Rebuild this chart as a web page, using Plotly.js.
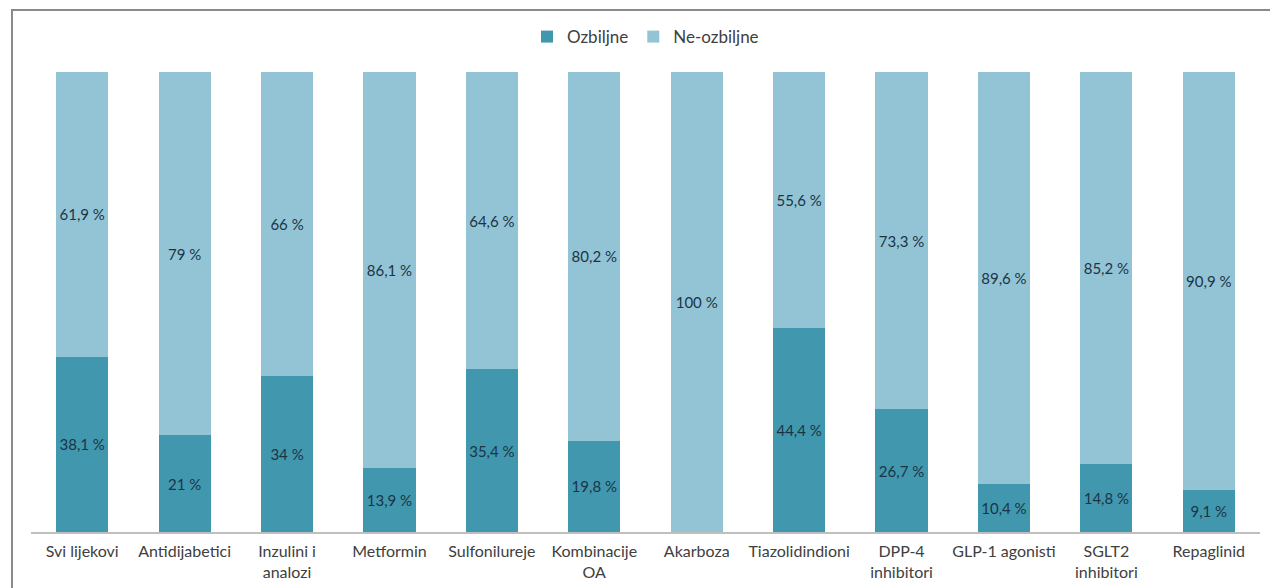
<!DOCTYPE html>
<html>
<head>
<meta charset="utf-8">
<script src="https://cdn.plot.ly/plotly-3.0.1.min.js"></script>
<style>
  html, body { margin: 0; padding: 0; background: #ffffff; }
  #frame { position: absolute; left: 11px; top: 9px; width: 1270px; height: 600px; border: 2px solid #8a8a8a; box-sizing: border-box; }
  #chart { position: absolute; left: 0; top: 0; width: 1270px; height: 588px; }
</style>
</head>
<body>
<div id="frame"></div>
<div id="chart"></div>
<script>
const categories = ["Svi lijekovi", "Antidijabetici", "Inzulini i<br>analozi", "Metformin", "Sulfonilureje", "Kombinacije<br>OA", "Akarboza", "Tiazolidindioni", "DPP-4<br>inhibitori", "GLP-1 agonisti", "SGLT2<br>inhibitori", "Repaglinid"];
const ozbiljne = [38.1, 21, 34, 13.9, 35.4, 19.8, 0, 44.4, 26.7, 10.4, 14.8, 9.1];
const neOzbiljne = [61.9, 79, 66, 86.1, 64.6, 80.2, 100, 55.6, 73.3, 89.6, 85.2, 90.9];
const seriesNames = ["Ozbiljne", "Ne-ozbiljne"];

function fmt(v) { return v === 0 ? "" : String(v).replace(".", ",") + " %"; }

const labelFont = { family: "Lato, 'Open Sans', sans-serif", size: 15, color: "#1b3445" };

const traces = [
  {
    type: "bar", name: seriesNames[0], x: categories, y: ozbiljne,
    marker: { color: "#4198ae" },
    text: ozbiljne.map(fmt), textposition: "inside", insidetextanchor: "middle", textangle: 0,
    textfont: labelFont, constraintext: "none", hoverinfo: "skip"
  },
  {
    type: "bar", name: seriesNames[1], x: categories, y: neOzbiljne,
    marker: { color: "#93c4d6" },
    text: neOzbiljne.map(fmt), textposition: "inside", insidetextanchor: "middle", textangle: 0,
    textfont: labelFont, constraintext: "none", hoverinfo: "skip"
  }
];

const layout = {
  width: 1270, height: 588,
  margin: { l: 31, r: 10, t: 72, b: 56 },
  paper_bgcolor: "rgba(0,0,0,0)", plot_bgcolor: "rgba(0,0,0,0)",
  barmode: "stack", bargap: 0.49,
  showlegend: true,
  legend: {
    orientation: "h", x: 0.5, xanchor: "center", y: 1.076, yanchor: "middle",
    font: { family: "Lato, 'Open Sans', sans-serif", size: 17, color: "#404040" },
    traceorder: "normal"
  },
  xaxis: {
    type: "category", showgrid: false, zeroline: false,
    showline: true, linecolor: "#bfbfbf", linewidth: 1.5,
    ticks: "", ticklabelstandoff: 4,
    tickfont: { family: "Lato, 'Open Sans', sans-serif", size: 16, color: "#404040" }
  },
  yaxis: {
    range: [0, 100], visible: false, showgrid: false, zeroline: false, fixedrange: true
  },
  font: { family: "Lato, 'Open Sans', sans-serif" }
};

Plotly.newPlot("chart", traces, layout, { displayModeBar: false, staticPlot: true });
</script>
</body>
</html>
